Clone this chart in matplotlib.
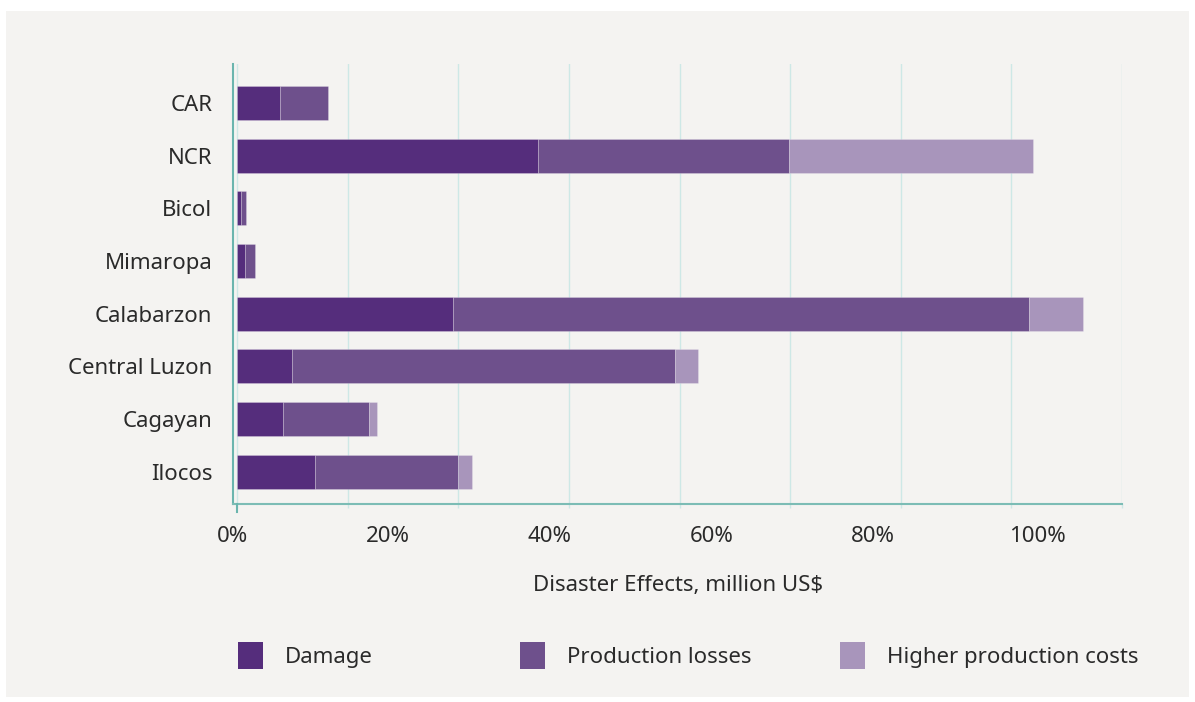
import numpy as np
import matplotlib.pyplot as plt
from matplotlib.patches import Rectangle

# Disaster effects by region (million US$), bottom to top
regions = ["Ilocos", "Cagayan", "Central Luzon", "Calabarzon",
           "Mimaropa", "Bicol", "NCR", "CAR"]
damage = [14.1, 8.3, 9.9, 39.0, 1.4, 0.7, 54.4, 7.8]
production_losses = [25.9, 15.6, 69.2, 104.1, 1.9, 0.9, 45.3, 8.6]
higher_costs = [2.5, 1.3, 4.3, 9.9, 0.0, 0.0, 44.2, 0.0]

series_names = ["Damage", "Production losses", "Higher production costs"]
series_colors = ["#552d7c", "#6e508c", "#a895bb"]

grid_values = [0, 20, 40, 60, 80, 100, 120, 140, 160]
pct_labels = ["0%", "20%", "40%", "60%", "80%", "100%"]
pct_positions = [-0.75, 27.2, 56.4, 85.8, 115.0, 144.7]

panel = "#f4f3f1"
text_color = "#2a2a2a"
grid_color = "#cde8e6"
axis_color = "#7cbcb5"

plt.rcParams["font.family"] = ["Noto Sans", "DejaVu Sans"]

fig = plt.figure(figsize=(11.95, 7.02), dpi=100, facecolor="white")
fig.add_artist(Rectangle((6 / 1195, 5 / 702), 1183 / 1195, 686 / 702,
                         transform=fig.transFigure, facecolor=panel,
                         edgecolor="none", zorder=0))

ax = fig.add_axes([233 / 1195, 1 - 504 / 702, 889 / 1195, 440 / 702])
ax.set_facecolor(panel)

y = np.arange(len(regions))
left = np.zeros(len(regions))
for values, color in zip([damage, production_losses, higher_costs], series_colors):
    values = np.array(values)
    keep = values > 0
    ax.barh(y[keep], values[keep], left=left[keep], height=0.65, color=color,
            edgecolor=(1, 1, 1, 0.25), linewidth=0.6, zorder=3)
    left += values

ax.set_xlim(0, 160)
ax.set_ylim(-0.613, 7.74)
ax.set_yticks(y)
ax.set_yticklabels(regions, fontsize=16, color=text_color)
ax.tick_params(axis="y", length=0, pad=15)

# gridlines on minor ticks, percentage labels on major ticks
ax.set_xticks(grid_values, minor=True)
ax.set_xticks(pct_positions)
ax.set_xticklabels(pct_labels, fontsize=16, color=text_color)
ax.tick_params(axis="x", which="major", length=0, pad=16)
ax.tick_params(axis="x", which="minor", length=3, width=1, color=grid_color)
ax.grid(axis="x", which="minor", color=grid_color, linewidth=1, zorder=0)
ax.grid(axis="x", which="major", visible=False)
ax.set_axisbelow(True)

for side in ["top", "right"]:
    ax.spines[side].set_visible(False)
ax.spines["left"].set_color("#6ab5ae")
ax.spines["left"].set_linewidth(1.5)
ax.spines["bottom"].set_color(axis_color)
ax.spines["bottom"].set_linewidth(1.5)
ax.plot([0, 0], [0, -0.018], transform=ax.get_xaxis_transform(),
        color="#6ab5ae", linewidth=1.5, clip_on=False, zorder=4)

fig.text(678 / 1195, 1 - 585 / 702, "Disaster Effects, million US$",
         ha="center", va="center", fontsize=16, color=text_color)

# legend drawn as separate swatches so each column sits at its own spot
legend_x = [238, 520, 840]
legend_y = 1 - 655 / 702
for x, name, color in zip(legend_x, series_names, series_colors):
    fig.add_artist(Rectangle((x / 1195, legend_y - 13.5 / 702), 25 / 1195, 27 / 702,
                             transform=fig.transFigure, facecolor=color,
                             edgecolor="none"))
    fig.text((x + 47) / 1195, legend_y, name, ha="left", va="center_baseline",
             fontsize=16, color=text_color)

fig.savefig("out.png", dpi=100, facecolor=fig.get_facecolor())
